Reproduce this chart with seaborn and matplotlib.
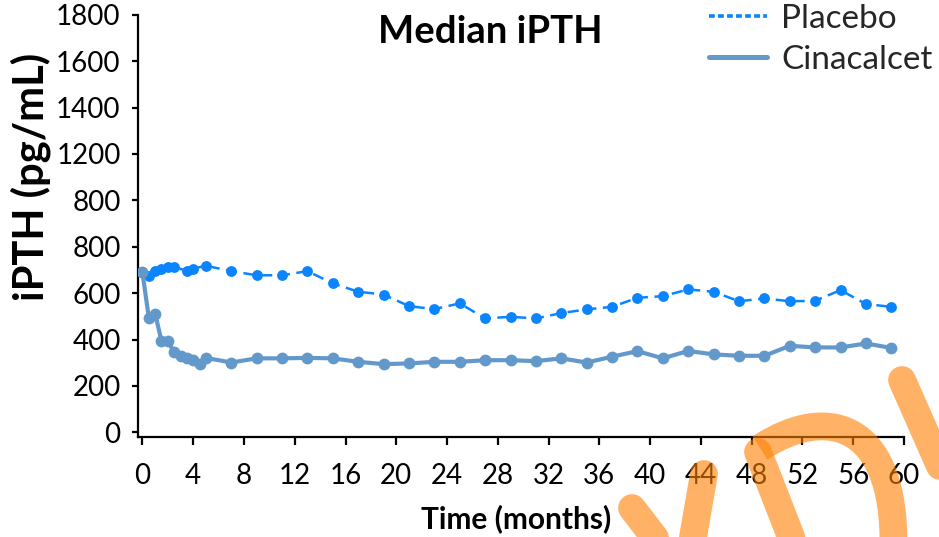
import numpy as np
import pandas as pd
import matplotlib
matplotlib.use("Agg")
import matplotlib.pyplot as plt
import seaborn as sns
from matplotlib.lines import Line2D
from matplotlib.path import Path
from matplotlib.patches import PathPatch

# ---- data -------------------------------------------------------------
placebo_months = [0, 0.5, 1, 1.5, 2, 2.5, 3.5, 4, 5, 7, 9, 11, 13, 15, 17, 19,
                  21, 23, 25, 27, 29, 31, 33, 35, 37, 39, 41, 43, 45, 47, 49,
                  51, 53, 55, 57, 59]
placebo_ipth = [689, 673, 696, 706, 711, 713, 696, 706, 718, 695, 677, 677,
                695, 642, 606, 594, 544, 531, 556, 491, 498, 491, 514, 530,
                541, 580, 587, 616, 606, 565, 577, 565, 567, 613, 553, 541]

cinacalcet_months = [0, 0.5, 1, 1.5, 2, 2.5, 3, 3.5, 4, 4.5, 5, 7, 9, 11, 13,
                     15, 17, 19, 21, 23, 25, 27, 29, 31, 33, 35, 37, 39, 41,
                     43, 45, 47, 49, 51, 53, 55, 57, 59]
cinacalcet_ipth = [689, 495, 512, 393, 393, 345, 329, 321, 311, 294, 321, 301,
                   319, 319, 321, 319, 304, 294, 297, 304, 304, 311, 311, 307,
                   319, 301, 326, 350, 319, 351, 336, 330, 330, 373, 366, 366,
                   383, 364]

x_ticks = list(range(0, 61, 4))
y_ticks = [0, 200, 400, 600, 800, 1000, 1200, 1400, 1600, 1800]
y_tick_labels = ["0", "200", "400", "600", "800", "800", "1200", "1400", "1600", "1800"]

series_names = ["Placebo", "Cinacalcet"]

# ---- style ------------------------------------------------------------
sns.set_theme(style="white")
plt.rcParams["font.family"] = ["Lato", "DejaVu Sans"]

W, H = 939, 537
fig = plt.figure(figsize=(W / 100, H / 100), dpi=100)
ax = fig.add_axes([138 / W, 1 - 437 / H, (904 - 138) / W, (437 - 14.7) / H])

placebo_color = "#0A84FF"
cina_color = "#6398CB"

df_p = pd.DataFrame({"month": placebo_months, "iPTH": placebo_ipth})
df_c = pd.DataFrame({"month": cinacalcet_months, "iPTH": cinacalcet_ipth})

sns.lineplot(data=df_p, x="month", y="iPTH", ax=ax, color=placebo_color,
             linewidth=1.8, linestyle=(0, (4.5, 2.6)), marker="o",
             markersize=7.8, markeredgewidth=0, zorder=3)
sns.lineplot(data=df_c, x="month", y="iPTH", ax=ax, color=cina_color,
             linewidth=3.0, marker="o", markersize=8.5, markeredgewidth=0,
             zorder=4)

ax.set_xlim(-0.35, 60)
ax.set_ylim(-20, 1800)
ax.set_xticks(x_ticks)
ax.set_xticklabels([str(t) for t in x_ticks])
ax.set_yticks(y_ticks)
ax.set_yticklabels(y_tick_labels)

for side in ["top", "right"]:
    ax.spines[side].set_visible(False)
for side in ["left", "bottom"]:
    ax.spines[side].set_color("black")
    ax.spines[side].set_linewidth(1.6)

ax.tick_params(axis="y", direction="out", length=4.5, width=1.6, color="black",
               labelsize=20, pad=8, left=True)
ax.tick_params(axis="x", direction="out", length=6, width=1.6, color="black",
               labelsize=20, pad=13, bottom=True)
for lbl in ax.get_xticklabels() + ax.get_yticklabels():
    lbl.set_color("black")

ax.set_xlabel("Time (months)", fontsize=21.5, fontweight="bold", color="black")
ax.xaxis.set_label_coords(0.493, -0.158)
ax.set_ylabel("iPTH (pg/mL)", fontsize=30, fontweight="bold", color="black")
ax.yaxis.set_label_coords(-0.114, 0.617)
ax.grid(False)

fig.text(490 / W, 1 - 32 / H, "Median iPTH", ha="center", va="center",
         fontsize=27.5, fontweight="bold", color="black")

# legend with its own sample styles
handles = [
    Line2D([], [], color=placebo_color, linewidth=2.6, linestyle=(0, (1.6, 0.9))),
    Line2D([], [], color=cina_color, linewidth=3.6),
]
fig.legend(handles, series_names, loc="upper left",
           bbox_to_anchor=(709 / W, 1 - 4 / H), frameon=False, fontsize=24,
           handlelength=1.75, handletextpad=0.42, labelspacing=0.32,
           borderpad=0, borderaxespad=0)

# ---- orange stamp in the lower-right corner -------------------------
def px(x, y):
    return (x / W, 1 - y / H)

stamp_color = "#FF8000"
stamp_alpha = 0.6
stamp_lw = 20
stamp_kw = dict(color=stamp_color, alpha=stamp_alpha, linewidth=stamp_lw,
                solid_capstyle="round", transform=fig.transFigure, zorder=10)
strokes = [
    [(632, 508), (672, 560)],
    [(704, 474), (689, 560)],
    [(758, 452), (800, 560)],
    [(902, 380), (955, 500)],
]
for pts in strokes:
    xs, ys = zip(*[px(*p) for p in pts])
    fig.add_artist(Line2D(xs, ys, **stamp_kw))

bowl = Path([px(760, 448), px(830, 402), px(900, 425), px(893, 560)],
            [Path.MOVETO, Path.CURVE4, Path.CURVE4, Path.CURVE4])
fig.add_artist(PathPatch(bowl, facecolor="none", edgecolor=stamp_color,
                         alpha=stamp_alpha, linewidth=stamp_lw, capstyle="butt",
                         transform=fig.transFigure, zorder=10))

fig.savefig("out.png", dpi=100)
